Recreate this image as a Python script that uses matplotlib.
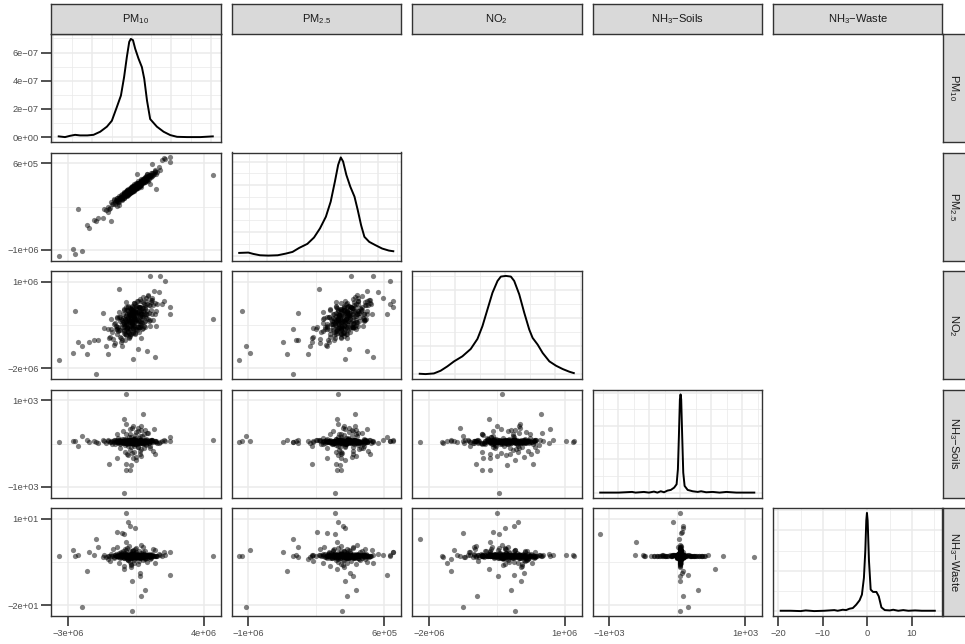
import numpy as np
import matplotlib.pyplot as plt
from matplotlib.ticker import MultipleLocator, FixedLocator, FuncFormatter

plt.rcParams['font.family'] = ['Liberation Sans', 'DejaVu Sans']
plt.rcParams['mathtext.fontset'] = 'custom'
plt.rcParams['mathtext.rm'] = 'Liberation Sans'
plt.rcParams['mathtext.default'] = 'regular'
plt.rcParams['axes.unicode_minus'] = True

# PM10, PM2.5, NO2 in units of 1e4
pm10 = [
    -142, -128, -118, -110, -104, -97, -92, -88, -83, -79, -76, -72, -69, -66, -63, -60, -58, -55, -53, -51,
    -49, -47, -45, -43, -41, -40, -38, -36, -35, -33, -32, -30, -29, -27, -26, -25, -23, -22, -21, -19,
    -18, -17, -16, -15, -14, -13, -12, -11, -10, -9, -8, -7, -6, -5, -4, -3, -2, -1, 0, 1,
    2, 3, 4, 5, 6, 7, 8, 9, 10, 11, 12, 14, 15, 16, 18, 19, 21, 22, 24, 25,
    27, 28, 30, 31, 33, 35, 36, 38, 40, 41, 43, 45, 47, 48, 50, 52, 54, 56, 58, 60,
    62, 64, 66, 68, 70, 72, 75, 77, 80, 83, 86, 89, 92, 96, 100, 105, 110, 117, 126, 138,
    -61, -57, -52, -48, -44, -40, -37, -34, -31, -28, -25, -22, -20, -17, -15, -13, -10, -8, -6, -4,
    -3, -1, 0, 2, 3, 5, 6, 8, 9, 11, 12, 13, 15, 17, 18, 20, 22, 23, 26, 29,
    31, 34, 37, 39, 42, 44, 46, 49, 51, 53, 55, 57, 59, 61, 63, 65, 67, 69, 71, 74,
    -35, -30, -24, -19, -14, -9, -5, -2, 1, 4, 7, 10, 14, 16, 19, 23, 27, 32, 36, 41,
    -90, -84, -78, -73, -68, -64, 45, 50, 78, 82, 85, 88, 91, 94, 98, 102, 108, 113, 120, 131,
    -369, 411, -295, -285, -249, -271, -227, -217, -180, -188, -168, -143, -104, -117,
    -63, 94, 142, 167, 196, 116, 7, 80, 162, 196, 152, 125, 103, 27,
    -26, -40, 59, -36, -26, 30, -113, -30, -7, -30, 50, 45, 21, -74, -5,
    -29, 1, -16, -7, 18, -75, -50, 3, 44, 40, 69, 50,
]
pm25 = [
    -39, -42, -34, -38, -25, -28, -29, -19, -29, -20, -23, -16, -22, -11, -25, -16, -13, -17, -14, -19,
    -7, -18, -10, -12, -7, -13, -3, -16, -8, -5, -10, -7, -12, -3, -10, -5, -11, 0, -5, -6,
    3, -10, -2, 0, -4, -2, -7, 2, -5, 0, -6, 5, 0, -2, 7, -4, 3, 1, 6, -1,
    -3, 8, 3, 2, 10, -1, 7, 4, 9, 2, 13, -1, 8, 10, 6, 8, 4, 12, 5, 11,
    9, 15, 8, 19, 5, 14, 16, 12, 14, 10, 18, 12, 18, 11, 23, 18, 17, 25, 15, 23,
    21, 20, 28, 18, 26, 23, 29, 23, 34, 21, 30, 33, 29, 32, 28, 38, 32, 39, 35, 50,
    -15, -19, -9, -14, -12, -6, -15, -8, -10, -1, -10, -2, -4, -8, -1, -3, 4, -3, 1, -1,
    5, -4, 3, 1, 9, 0, 7, 4, 0, 7, 5, 11, 4, 8, 6, 10, 6, 14, 9, 11,
    8, 16, 13, 9, 17, 15, 21, 14, 19, 16, 21, 17, 25, 20, 22, 26, 17, 24, 22, 31,
    -7, -8, 0, -7, -1, -3, 2, -2, 7, 2, 4, 9, 0, 8, 6, 15, 6, 15, 13, 10,
    -21, -25, -22, -17, -25, -17, 14, 24, 22, 30, 28, 24, 32, 30, 37, 31, 36, 35, 41, 40,
    -138, 33, -124, -134, -129, -40, -73, -79, -65, -62, -59, -58, -65, -45,
    -30, 13, 43, 66, 61, 43, 5, 35, 69, 70, 65, 3, 56, 35,
    -5, -9, 18, -6, -4, 10, -40, -8, 0, -6, 20, 15, 5, -20, -2,
    -9, 1, -4, 2, 5, -33, -20, 5, 15, 12, 20, 8,
]
no2 = [
    -25, -83, -29, -54, 4, -39, -60, -13, -74, -20, 6, -45, -22, -33, 26, -54, -5, -71, 3, -21,
    1, -62, -8, 18, -34, -12, -23, 35, -45, 3, -63, 12, -13, 16, -47, 3, -23, 32, -12, -35,
    42, -39, 9, -57, 17, -8, 21, -42, 9, -18, 37, -8, -30, 16, -46, 7, 32, -20, 2, -10,
    -14, 41, -4, -26, 20, -43, 11, 36, -17, 6, -6, 53, -28, 21, -46, 29, 4, 33, -30, 21,
    43, -10, 13, 1, 60, -21, 28, -39, 36, 11, 40, -22, 29, 2, 58, 13, -9, 38, -25, 29,
    17, -6, 41, -21, 33, 58, 6, 29, 18, 77, -3, 46, -20, 56, 32, 62, 1, 53, 29, 88,
    -33, 10, -58, -12, 7, -41, 31, -20, 3, -45, 18, -26, 2, 44, -27, -2, -52, 16, -4, 35,
    21, -27, 44, -7, 15, -33, 29, -15, 12, 54, -18, 8, -43, 25, 4, 43, -4, 38, -31, 15,
    25, -23, 40, -4, 24, 65, -6, 20, -30, 38, 17, 56, 9, 51, -18, 28, 46, -3, 69, 18,
    -3, 40, -30, -4, -53, 16, -4, 35, -12, 31, -38, 9, 27, -21, 51, 0, 24, -24, 40, -4,
    -80, -10, -29, 10, -36, 8, -24, 23, 49, 2, 74, 23, 46, -2, 61, 18, 47, 90, 20, 49,
    -127, 3, -103, 27, -84, -69, -108, -69, -171, -62, -62, 21, -30, -108,
    97, 138.5, 137, 122, 19, -116, -124, -97, 60, 40, 50, -18, 70, 60,
    -6, -11, 72, -32, 30, -91, -57, 56, -45, -30, -16, 10, 20, -30, 5,
    -15, 21, 27, 19, 0, -23, -84, 32, -13, 39, 12, -56,
]
nh3_soils = [
    12, -35, 48, -8, 25, -60, 3, -22, 41, -15, 6, 180, -44, 17, -3, 30, -52, 9, -28, 55,
    -11, 22, -40, 4, 63, -19, 35, -6, -250, 14, -33, 28, -2, 47, -24, 11, -57, 20, -9, 38,
    -5, 18, -30, 7, 52, -13, 26, -45, 1, 34, -18, 310, -7, 15, -38, 44, -1, 23, -26, 8,
    39, -12, 21, -48, 5, -420, 16, -29, 58, -4, 27, -16, 2, 36, -55, 13, -21, 45, -10, 24,
    -37, 10, 31, -3, -130, 19, -46, 6, 42, -14, 29, -23, 390, -6, 16, -31, 51, -8, 3, -42,
    26, -17, 8, 37, -25, 14, -50, 230, -2, 21, -34, 11, -150, 32, -13, 46, -4, -320, 19, -27,
    8, -150, 22, -6, 260, -30, 14, -95, 3, 180, -18, 35, -340, 5, 120, -12, 28, -210, 40, -2,
    -45, 110, 6, -280, 17, 70, -9, 400, -25, 2, -110, 31, 160, -4, -60, 240, 12, -380, 19, -15,
    25, -130, -7, 95, 48, -230, 0, 300, -36, 11, 140, -52, -3, 200, -20, -170, 34, 7, -90, 60,
    -10, 75, -300, 13, -42, 190, 1, -125, 29, 350, -8, 58, -270, -16, 100, 4, -65, 270, -33, 16,
    30, -55, 10, -20, 85, -5, 150, -190, -12, 45, 220, -28, 6, -105, 37, 18, -240, 330, 9, -44,
    -20, 38, 20, 15, 130, -114, 38, 0, -20, 10, -30, 30, 0, 20,
    50, 10, 0, 20, 122, 20, -40, 0, 40, 15, 10, -10, 30, 0,
    1192, -1287, 696, 562, 443, 350, -562, -577, -722, -719, -367, -300, -468, -426, -600,
    0, 0, -114, 50, 40, 30, 20, 0, 0, 30, 282, 49,
]
nh3_waste = [
    0.3, -0.5, 0.1, -1.8, 0.6, -0.2, 2.4, -0.7, 0.4, -0.1, 3.1, 0.0, -0.4, 0.8, -2.6, 0.2, -0.6, 1.4, -0.3, 0.5,
    -0.2, 0.7, -0.4, 1.9, 0.1, -0.8, 0.3, -3.4, 0.1, 0.9, -0.5, 0.2, 2.0, -0.3, 0.6, -1.2, 0.4, -0.1, 2.8, 0.0,
    -1.5, 0.4, -0.2, 3.6, 0.1, -0.6, 0.5, -0.3, -2.2, 0.2, -0.4, 0.0, 1.7, -0.7, 0.3, -0.1, -4.0, 0.6, -0.5, 1.1,
    0.2, -0.9, 0.5, -0.1, 2.2, 0.0, -0.4, 0.7, -0.3, -1.6, 0.1, 0.8, 2.6, -0.2, 0.4, -0.7, 0.3, -0.5, 1.3, 0.1,
    -0.3, 0.6, -0.1, -2.9, 0.0, 0.4, -0.6, 1.6, 0.2, -0.4, 0.5, -0.2, 0.1, 1.2, -0.8, 0.3, -0.5, -1.3, 3.3, 0.2,
    0.4, -0.3, 1.8, -0.6, 0.2, -0.1, 0.5, 0.0, -2.0, 0.3, -0.4, 0.7, -0.1, 0.2, -0.9, 0.1, 2.3, 0.0, -0.2, 0.6,
    0.2, 0.1, -0.3, 1.1, 0.0, 0.4, -0.6, 0.2, 2.5, -0.1, 0.5, -0.2, 0.0, -1.4, 0.3, 0.7, -0.4, 0.1, 0.3, -3.0,
    -0.5, 0.0, 1.6, 0.2, -0.8, 0.1, 0.6, 0.0, -0.2, -2.4, 0.3, 0.4, -0.1, 1.0, 0.2, 0.0, -0.7, 0.1, 0.5, -0.3,
    0.4, -0.2, -1.9, 0.1, -0.4, 0.0, 3.8, 0.1, 0.6, -0.5, 0.2, -0.3, 1.4, 0.0, 0.8, 0.2, -0.6, -1.1, 0.3, 0.1,
    0.7, 0.0, 0.2, -0.9, 0.5, -0.1, -3.1, 0.3, -0.3, 0.0, 1.8, -0.4, 0.1, 0.6, 0.2, 2.9, -0.2, 0.0, 0.4, -0.7,
    -0.3, 0.4, 0.8, -0.2, 0.1, 1.2, 0.0, -0.1, -0.6, 0.3, 0.0, 0.5, -1.0, 0.2, -0.4, 0.6, 0.0, 0.1, 2.0, -0.2,
    -0.2, -0.2, 2.1, -0.2, -17.9, 0.3, -5.3, 1.5, 5.9, 0.5, 3.3, -0.5, 0.0, -1.0,
    0.5, 0.0, 0.2, 0.5, -6.8, -2.4, -0.5, 0.3, 1.5, 1.5, 0.0, 0.0, 0.5, -0.5,
    -0.4, 7.7, 0.0, -4.5, 0.2, 0.0, 0.0, 0.0, 0.2, 4.9, 0.0, 0.0, 0.0, 0.0, 0.2,
    15.2, -19.5, 12.0, 10.6, 10.0, 8.5, 8.2, -8.8, -7.1, -5.9, -12.1, -14.0,
]

# ---- density curves ----
pm10_dx = [-3.69, -3.37, -3.12, -2.86, -2.61, -2.24, -1.93, -1.59, -1.25, -1.0, -0.75, -0.54, -0.38, -0.24, -0.12,
           -0.04, 0.07, 0.18, 0.35, 0.52, 0.64, 0.78, 0.94, 1.28, 1.62, 1.96, 2.30, 2.81, 3.48, 4.11]
pm10_dy = [0.05, 0.0, 0.09, 0.16, 0.12, 0.12, 0.16, 0.38, 0.74, 1.16, 2.12, 2.95, 4.26, 5.69, 6.76,
           6.97, 6.88, 6.28, 5.57, 4.97, 4.14, 2.59, 1.28, 0.74, 0.38, 0.14, 0.02, 0.0, 0.0, 0.05]
pm25_dx = [-1.38, -1.257, -1.19, -1.10, -0.99, -0.86, -0.75, -0.66, -0.57, -0.46, -0.37, -0.29, -0.21, -0.145, -0.088,
           -0.044, -0.009, 0.022, 0.066, 0.119, 0.176, 0.22, 0.265, 0.31, 0.375, 0.46, 0.55, 0.64, 0.70]
pm25_dy = [8, 9, 5, 1, 0, 1, 6, 11, 23, 35, 54, 81, 116, 161, 221, 271, 293, 281, 241, 206, 176, 136, 91, 56, 41,
           31, 21, 15, 13]
no2_dx = [-1.71, -1.593, -1.425, -1.29, -1.155, -1.02, -0.853, -0.685, -0.55, -0.45, -0.349, -0.248, -0.147, -0.08,
          0.02, 0.121, 0.188, 0.289, 0.39, 0.49, 0.558, 0.659, 0.76, 0.894, 1.028, 1.163, 1.297, 1.385]
no2_dy = [1, 0, 2, 10, 23, 38, 53, 75, 105, 143, 193, 243, 278, 291, 293, 291, 278, 238, 183, 133, 108, 88, 63, 38,
          25, 15, 7, 3]
soils_dx = [-1287, -990, -773, -719, -584, -503, -422, -367, -313, -260, -205, -151, -97, -58, -37, -21, -5, 6, 16,
            32, 49, 71, 120, 201, 282, 336, 417, 526, 633, 742, 904, 1192]
soils_dy = [0, 0, 2, 0, 2, 0, 3, 0, 4, 1, 6, 8, 15, 25, 70, 170, 280, 295, 280, 170, 60, 20, 8, 4, 2, 4, 1, 2, 0, 2,
            0, 0]
waste_dx = [-19.5, -17.27, -15.0, -13.86, -11.97, -9.7, -7.42, -6.67, -5.53, -4.77, -4.02, -3.26, -2.5, -1.74, -1.21,
            -0.76, -0.45, -0.23, -0.08, 0.08, 0.38, 0.76, 1.29, 2.05, 2.58, 3.18, 3.94, 5.08, 5.83, 6.97, 8.1, 9.24,
            10.76, 12.27, 15.2]
waste_dy = [1, 1, 0, 2, 0, 1, 3, 1, 4, 3, 7, 9, 19, 32, 49, 99, 179, 269, 292, 269, 149, 64, 57, 57, 44, 11, 3, 2, 4,
            1, 3, 1, 2, 1, 1]

names = ['PM$_{10}$', 'PM$_{2.5}$', 'NO$_2$', 'NH$_3$\u2212Soils', 'NH$_3$\u2212Waste']
data = [np.array(pm10) * 1e4, np.array(pm25) * 1e4, np.array(no2) * 1e4,
        np.array(nh3_soils, float), np.array(nh3_waste, float)]
dens = [(np.array(pm10_dx) * 1e6, np.array(pm10_dy) * 1e-7),
        (np.array(pm25_dx) * 1e6, np.array(pm25_dy, float)),
        (np.array(no2_dx) * 1e6, np.array(no2_dy, float)),
        (np.array(soils_dx, float), np.array(soils_dy, float)),
        (np.array(waste_dx), np.array(waste_dy, float))]
# grid spacing (major, minor) in the diagonal panels
dens_xstep = [(2e6, 1e6), (5e5, 2.5e5), (1e6, 5e5), (500, 250), (10, 5)]
dens_ystep = [(2e-7, 1e-7), (70, 35), (84, 42), (100, 50), (120, 60)]

W, H = 965, 644
col_left = [51, 231.5, 412, 592.5, 773]
col_w = 169.5
row_top = [34, 152.5, 271, 389.5, 508]
row_h = 108

BORDER = '#333333'
GRID = '#EBEBEB'


def box(left, top, w, h):
    return [left / W, 1 - (top + h) / H, w / W, h / H]


def sci(v, pos=None):
    return f"{v:.0e}".replace('-', '\u2212')


def padded(lo, hi):
    p = 0.05 * (hi - lo)
    return lo - p, hi + p


lims = [padded(d.min(), d.max()) for d in data]
breaks = []
for d in data:
    lo, hi = d.min(), d.max()
    r = hi - lo
    breaks.append([lo + 0.06 * r, hi - 0.06 * r])

fig = plt.figure(figsize=(W / 100, H / 100), dpi=100)
fig.patch.set_facecolor('white')

for i in range(5):
    for j in range(i + 1):
        ax = fig.add_axes(box(col_left[j], row_top[i], col_w, row_h))
        ax.set_axisbelow(True)
        ax.set_xlim(*lims[j])
        if i == j:
            dx, dy = dens[j]
            ax.plot(dx, dy, color='black', lw=1.4, solid_joinstyle='round')
            ax.set_ylim(*padded(dy.min(), dy.max()))
            ax.xaxis.set_major_locator(MultipleLocator(dens_xstep[j][0]))
            ax.xaxis.set_minor_locator(MultipleLocator(dens_xstep[j][1]))
            ax.yaxis.set_major_locator(MultipleLocator(dens_ystep[j][0]))
            ax.yaxis.set_minor_locator(MultipleLocator(dens_ystep[j][1]))
        else:
            ax.scatter(data[j], data[i], s=14, c='black', alpha=0.5, linewidths=0)
            ax.set_ylim(*lims[i])
            ax.xaxis.set_major_locator(FixedLocator(breaks[j]))
            ax.xaxis.set_minor_locator(FixedLocator([np.mean(breaks[j])]))
            ax.yaxis.set_major_locator(FixedLocator(breaks[i]))
            ax.yaxis.set_minor_locator(FixedLocator([np.mean(breaks[i])]))
            ax.xaxis.set_major_formatter(FuncFormatter(sci))
            ax.yaxis.set_major_formatter(FuncFormatter(sci))
        if i == 0:
            ax.yaxis.set_major_formatter(FuncFormatter(sci))
        ax.grid(which='major', color=GRID, lw=1.1)
        ax.grid(which='minor', color=GRID, lw=0.55)
        for s in ax.spines.values():
            s.set_color(BORDER)
            s.set_linewidth(1.0)
            s.set_zorder(5)
        ax.tick_params(which='minor', length=0)
        ax.tick_params(which='major', length=7, width=1.2, color=BORDER,
                       labelsize=6.7, labelcolor='#4D4D4D', pad=2)
        ax.tick_params(axis='x', labelbottom=(i == 4), bottom=(i == 4))
        ax.tick_params(axis='y', labelleft=(j == 0), left=(j == 0))

# top strips
for j in range(5):
    sa = fig.add_axes(box(col_left[j], 3.5, col_w, 30.5))
    sa.set_facecolor('#D9D9D9')
    sa.set_xticks([])
    sa.set_yticks([])
    for s in sa.spines.values():
        s.set_color(BORDER)
        s.set_linewidth(1.0)
    sa.text(0.5, 0.5, names[j], ha='center', va='center', fontsize=8, color='#1A1A1A',
            transform=sa.transAxes)

# right strips
for i in range(5):
    sa = fig.add_axes(box(942.5, row_top[i], 30.5, row_h))
    sa.set_facecolor('#D9D9D9')
    sa.set_xticks([])
    sa.set_yticks([])
    for s in sa.spines.values():
        s.set_color(BORDER)
        s.set_linewidth(1.0)
    sa.text(0.37, 0.5, names[i], ha='center', va='center', fontsize=8, color='#1A1A1A',
            rotation=-90, transform=sa.transAxes)

fig.savefig('out.png', dpi=100)
